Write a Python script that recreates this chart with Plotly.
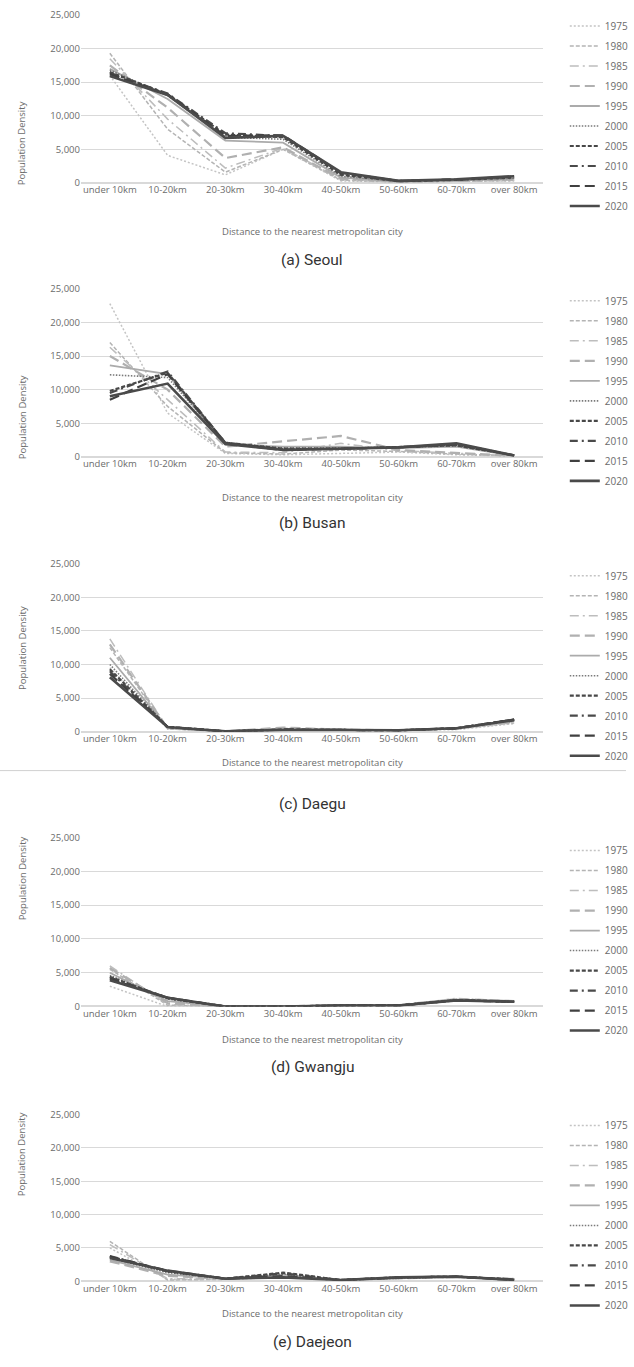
import plotly.graph_objects as go

categories = ["under 10km", "10-20km", "20-30km", "30-40km", "40-50km", "50-60km", "60-70km", "over 80km"]
years = ["1975", "1980", "1985", "1990", "1995", "2000", "2005", "2010", "2015", "2020"]
y_ticks = [0, 5000, 10000, 15000, 20000, 25000]

seoul = {
    "1975": [16000, 4100, 1200, 5000, 300, 150, 250, 300],
    "1980": [19300, 8000, 1600, 5000, 400, 150, 250, 350],
    "1985": [18500, 9500, 2200, 5200, 500, 200, 300, 400],
    "1990": [17500, 11200, 3700, 5300, 600, 200, 300, 500],
    "1995": [17000, 12500, 6300, 6000, 800, 200, 350, 600],
    "2000": [16800, 13000, 6800, 6500, 1000, 250, 400, 700],
    "2005": [16500, 13200, 7200, 6800, 1200, 250, 450, 800],
    "2010": [16400, 13300, 7400, 7000, 1400, 300, 500, 900],
    "2015": [16200, 13200, 7000, 7100, 1500, 300, 500, 950],
    "2020": [15900, 13100, 6700, 7000, 1600, 300, 550, 1000],
}
busan = {
    "1975": [22800, 6500, 500, 300, 500, 700, 300, 100],
    "1980": [17000, 7500, 600, 400, 1000, 800, 400, 100],
    "1985": [16300, 8500, 700, 600, 2000, 900, 500, 150],
    "1990": [15000, 10000, 1500, 2300, 3100, 1000, 600, 150],
    "1995": [13600, 12300, 1800, 1500, 1500, 1300, 1500, 150],
    "2000": [12200, 11800, 2000, 1300, 1300, 1400, 1600, 200],
    "2005": [9800, 12500, 2100, 1200, 1200, 1400, 1700, 200],
    "2010": [9500, 12700, 2100, 1100, 1200, 1400, 1800, 200],
    "2015": [8500, 12300, 2000, 1000, 1200, 1400, 1900, 200],
    "2020": [9000, 10900, 1900, 1000, 1200, 1400, 2000, 200],
}
daegu = {
    "1975": [9500, 400, 50, 400, 300, 200, 300, 1200],
    "1980": [12500, 400, 50, 500, 300, 200, 400, 1300],
    "1985": [13800, 500, 50, 500, 300, 200, 400, 1400],
    "1990": [13000, 500, 50, 600, 300, 200, 500, 1500],
    "1995": [11000, 600, 50, 400, 300, 200, 500, 1600],
    "2000": [10000, 700, 50, 300, 250, 200, 500, 1700],
    "2005": [9300, 700, 50, 300, 250, 200, 500, 1800],
    "2010": [9000, 700, 50, 300, 250, 200, 500, 1800],
    "2015": [8600, 700, 50, 300, 250, 200, 500, 1800],
    "2020": [8100, 700, 50, 250, 250, 200, 500, 1700],
}
gwangju = {
    "1975": [3000, 0, 0, 0, 100, 100, 900, 700],
    "1980": [5500, 200, 0, 0, 150, 150, 1100, 700],
    "1985": [6000, 300, 0, 0, 200, 150, 1200, 800],
    "1990": [5700, 500, 0, 0, 200, 200, 1100, 800],
    "1995": [5000, 800, 0, 0, 200, 200, 1000, 800],
    "2000": [4600, 1100, 0, 0, 150, 150, 1000, 700],
    "2005": [4400, 1200, 0, 0, 150, 150, 950, 700],
    "2010": [4300, 1300, 0, 0, 150, 150, 900, 700],
    "2015": [4100, 1300, 0, 0, 150, 150, 900, 700],
    "2020": [3900, 1300, 0, 0, 150, 150, 900, 700],
}
daejeon = {
    "1975": [5000, 300, 300, 600, 200, 500, 600, 400],
    "1980": [6000, 200, 300, 700, 200, 500, 600, 400],
    "1985": [5500, 400, 400, 800, 200, 500, 700, 400],
    "1990": [3000, 800, 400, 900, 200, 500, 700, 300],
    "1995": [3200, 1000, 400, 1000, 200, 500, 700, 300],
    "2000": [3500, 1300, 400, 1100, 200, 500, 700, 300],
    "2005": [3700, 1500, 400, 1300, 200, 600, 700, 300],
    "2010": [3800, 1500, 400, 1200, 200, 600, 700, 300],
    "2015": [3700, 1600, 400, 800, 200, 600, 700, 200],
    "2020": [3500, 1600, 400, 600, 200, 600, 700, 200],
}

cities = [("(a) Seoul", seoul), ("(b) Busan", busan), ("(c) Daegu", daegu),
          ("(d) Gwangju", gwangju), ("(e) Daejeon", daejeon)]

styles = {
    "1975": dict(color="#c4c4c4", width=1.5, dash="2px,2px"),
    "1980": dict(color="#b4b4b4", width=1.5, dash="4px,2px"),
    "1985": dict(color="#bdbdbd", width=1.5, dash="9px,4px,2px,4px"),
    "1990": dict(color="#b0b0b0", width=2.2, dash="10px,5px"),
    "1995": dict(color="#ababab", width=1.8, dash="solid"),
    "2000": dict(color="#7a7a7a", width=1.6, dash="1.5px,1.5px"),
    "2005": dict(color="#484848", width=2.2, dash="4px,2px"),
    "2010": dict(color="#4a4a4a", width=2.2, dash="8px,4px,2px,4px"),
    "2015": dict(color="#404040", width=2.2, dash="10px,5px"),
    "2020": dict(color="#4a4a4a", width=2.6, dash="solid"),
}

W, H = 634, 1367
# pixel geometry of each panel: (top of plot, bottom of plot)
panels_px = [(14, 182), (288, 456), (563, 731), (837, 1006), (1114, 1281)]
xtitle_px = [222, 497, 762, 1048, 1322]
caption_px = [248, 522, 803, 1078, 1353]
legend_first_px = [25, 300, 575, 850, 1125]
x0_px, x1_px = 82, 550


def ry(p):
    # empirical vertical calibration of the rendered page
    return (p - 6) / 0.991


def py(p):
    return 1 - ry(p) / H


fig = go.Figure()
font_tick = dict(family="Open Sans", size=9.5, color="#6b6b6b")
annotations = []
for i, (caption, data) in enumerate(cities):
    n = "" if i == 0 else str(i + 1)
    xa, ya = "x" + n, "y" + n
    leg = "legend" + n
    for yr in years:
        fig.add_trace(go.Scatter(
            x=categories, y=data[yr], mode="lines", name=yr,
            line=styles[yr], xaxis=xa, yaxis=ya, legend=leg,
            legendgroup=f"{i}-{yr}",
        ))
    top, bot = panels_px[i]
    fig.layout["xaxis" + n] = dict(
        domain=[x0_px / W, x1_px / W], anchor=ya, type="category",
        range=[-0.5, 7.5], showgrid=False, showline=False, ticks="",
        tickfont=font_tick, fixedrange=True,
    )
    fig.layout["yaxis" + n] = dict(
        domain=[py(bot), py(top)], anchor=xa, range=[0, 25000],
        tickvals=y_ticks, tickformat=",d", showgrid=True, gridcolor="#d9d9d9",
        gridwidth=1, zeroline=True, zerolinecolor="#d9d9d9", showline=False,
        ticks="", tickfont=font_tick, fixedrange=True,
    )
    fig.layout[leg] = dict(
        x=572 / W, xanchor="left", y=py(legend_first_px[i] - 14.5), yanchor="top",
        font=dict(family="Open Sans", size=10, color="#6b6b6b"),
        bgcolor="rgba(0,0,0,0)", borderwidth=0, tracegroupgap=1,
    )
    annotations.append(dict(
        text="Population Density", x=14 / W, y=py((top + bot) / 2),
        xref="paper", yref="paper", showarrow=False, textangle=-90,
        font=dict(family="Open Sans", size=9.5, color="#6b6b6b"),
    ))
    annotations.append(dict(
        text="Distance to the nearest metropolitan city", x=(x0_px + x1_px) / 2 / W,
        y=py(xtitle_px[i]), xref="paper", yref="paper", showarrow=False,
        font=dict(family="Open Sans", size=9.5, color="#6b6b6b"),
    ))
    annotations.append(dict(
        text=caption, x=316 / W, y=py(caption_px[i]), xref="paper", yref="paper",
        showarrow=False, font=dict(family="Roboto", size=15.5, color="#333333"),
    ))

fig.update_layout(
    width=W, height=H, margin=dict(l=0, r=0, t=0, b=0),
    paper_bgcolor="white", plot_bgcolor="white",
    annotations=annotations, showlegend=True,
    shapes=[dict(type="line", xref="paper", yref="paper", x0=0, x1=1,
                 y0=py(770), y1=py(770), line=dict(color="#d0d0d0", width=1))],
)

fig.write_html(
    "out.html",
    config={"displayModeBar": False},
    post_script="document.body.style.margin='0px';document.body.style.overflow='hidden';",
)
